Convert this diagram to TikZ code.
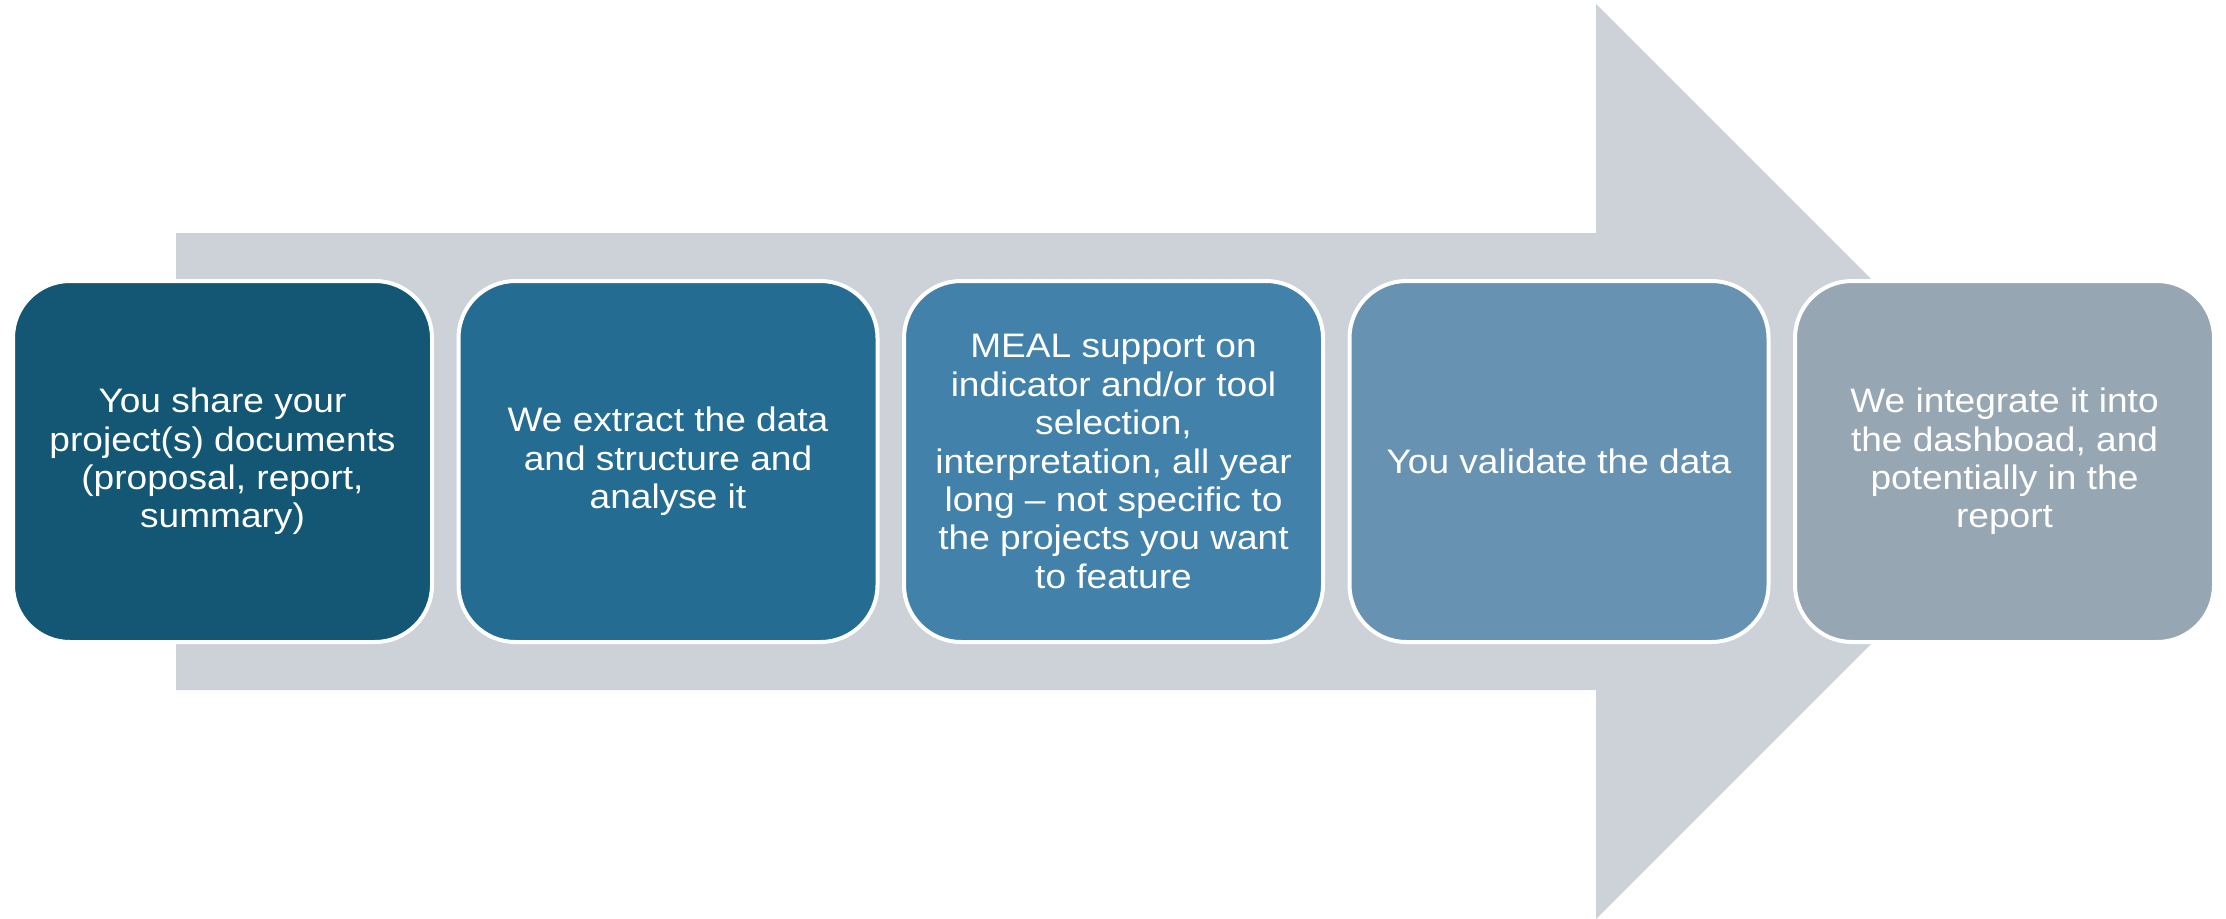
\documentclass[tikz,border=0pt]{standalone}
\usepackage{fontspec}
\setmainfont{Liberation Sans}[FakeStretch=1.09]
\definecolor{arrowgray}{HTML}{CDD2D9}
\definecolor{cA}{HTML}{145775}
\definecolor{cB}{HTML}{246C92}
\definecolor{cC}{HTML}{4281AA}
\definecolor{cD}{HTML}{6892B2}
\definecolor{cE}{HTML}{97A6B3}
\begin{document}
\begin{tikzpicture}[x=1pt,y=-1pt,
  stepbox/.style={draw=white, line width=4pt, rounded corners=57pt,
    minimum width=419pt, minimum height=361pt, inner sep=0pt,
    align=center, text=white,
    font=\fontsize{34}{38.4}\selectfont}]
\useasboundingbox (0,0) rectangle (2226,918);
\fill[white] (0,0) rectangle (2226,918);
\fill[arrowgray] (176,233) -- (1596,233) -- (1596,4) -- (2053.5,461.5)
  -- (1596,919) -- (1596,690) -- (176,690) -- cycle;
\node[stepbox, fill=cA] (s1) at (222.5,461.5)
  {You share your\\project(s) documents\\(proposal, report,\\summary)};
\node[stepbox, fill=cB] (s2) at (668,461.5)
  {We extract the data\\and structure and\\analyse it};
\node[stepbox, fill=cC] (s3) at (1113.5,461.5)
  {MEAL support on\\indicator and/or tool\\selection,\\interpretation, all year\\long -- not specific to\\the projects you want\\to feature};
\node[stepbox, fill=cD] (s4) at (1559,461.5)
  {You validate the data};
\node[stepbox, fill=cE] (s5) at (2004.5,461.5)
  {We integrate it into\\the dashboad, and\\potentially in the\\report};
\end{tikzpicture}
\end{document}
